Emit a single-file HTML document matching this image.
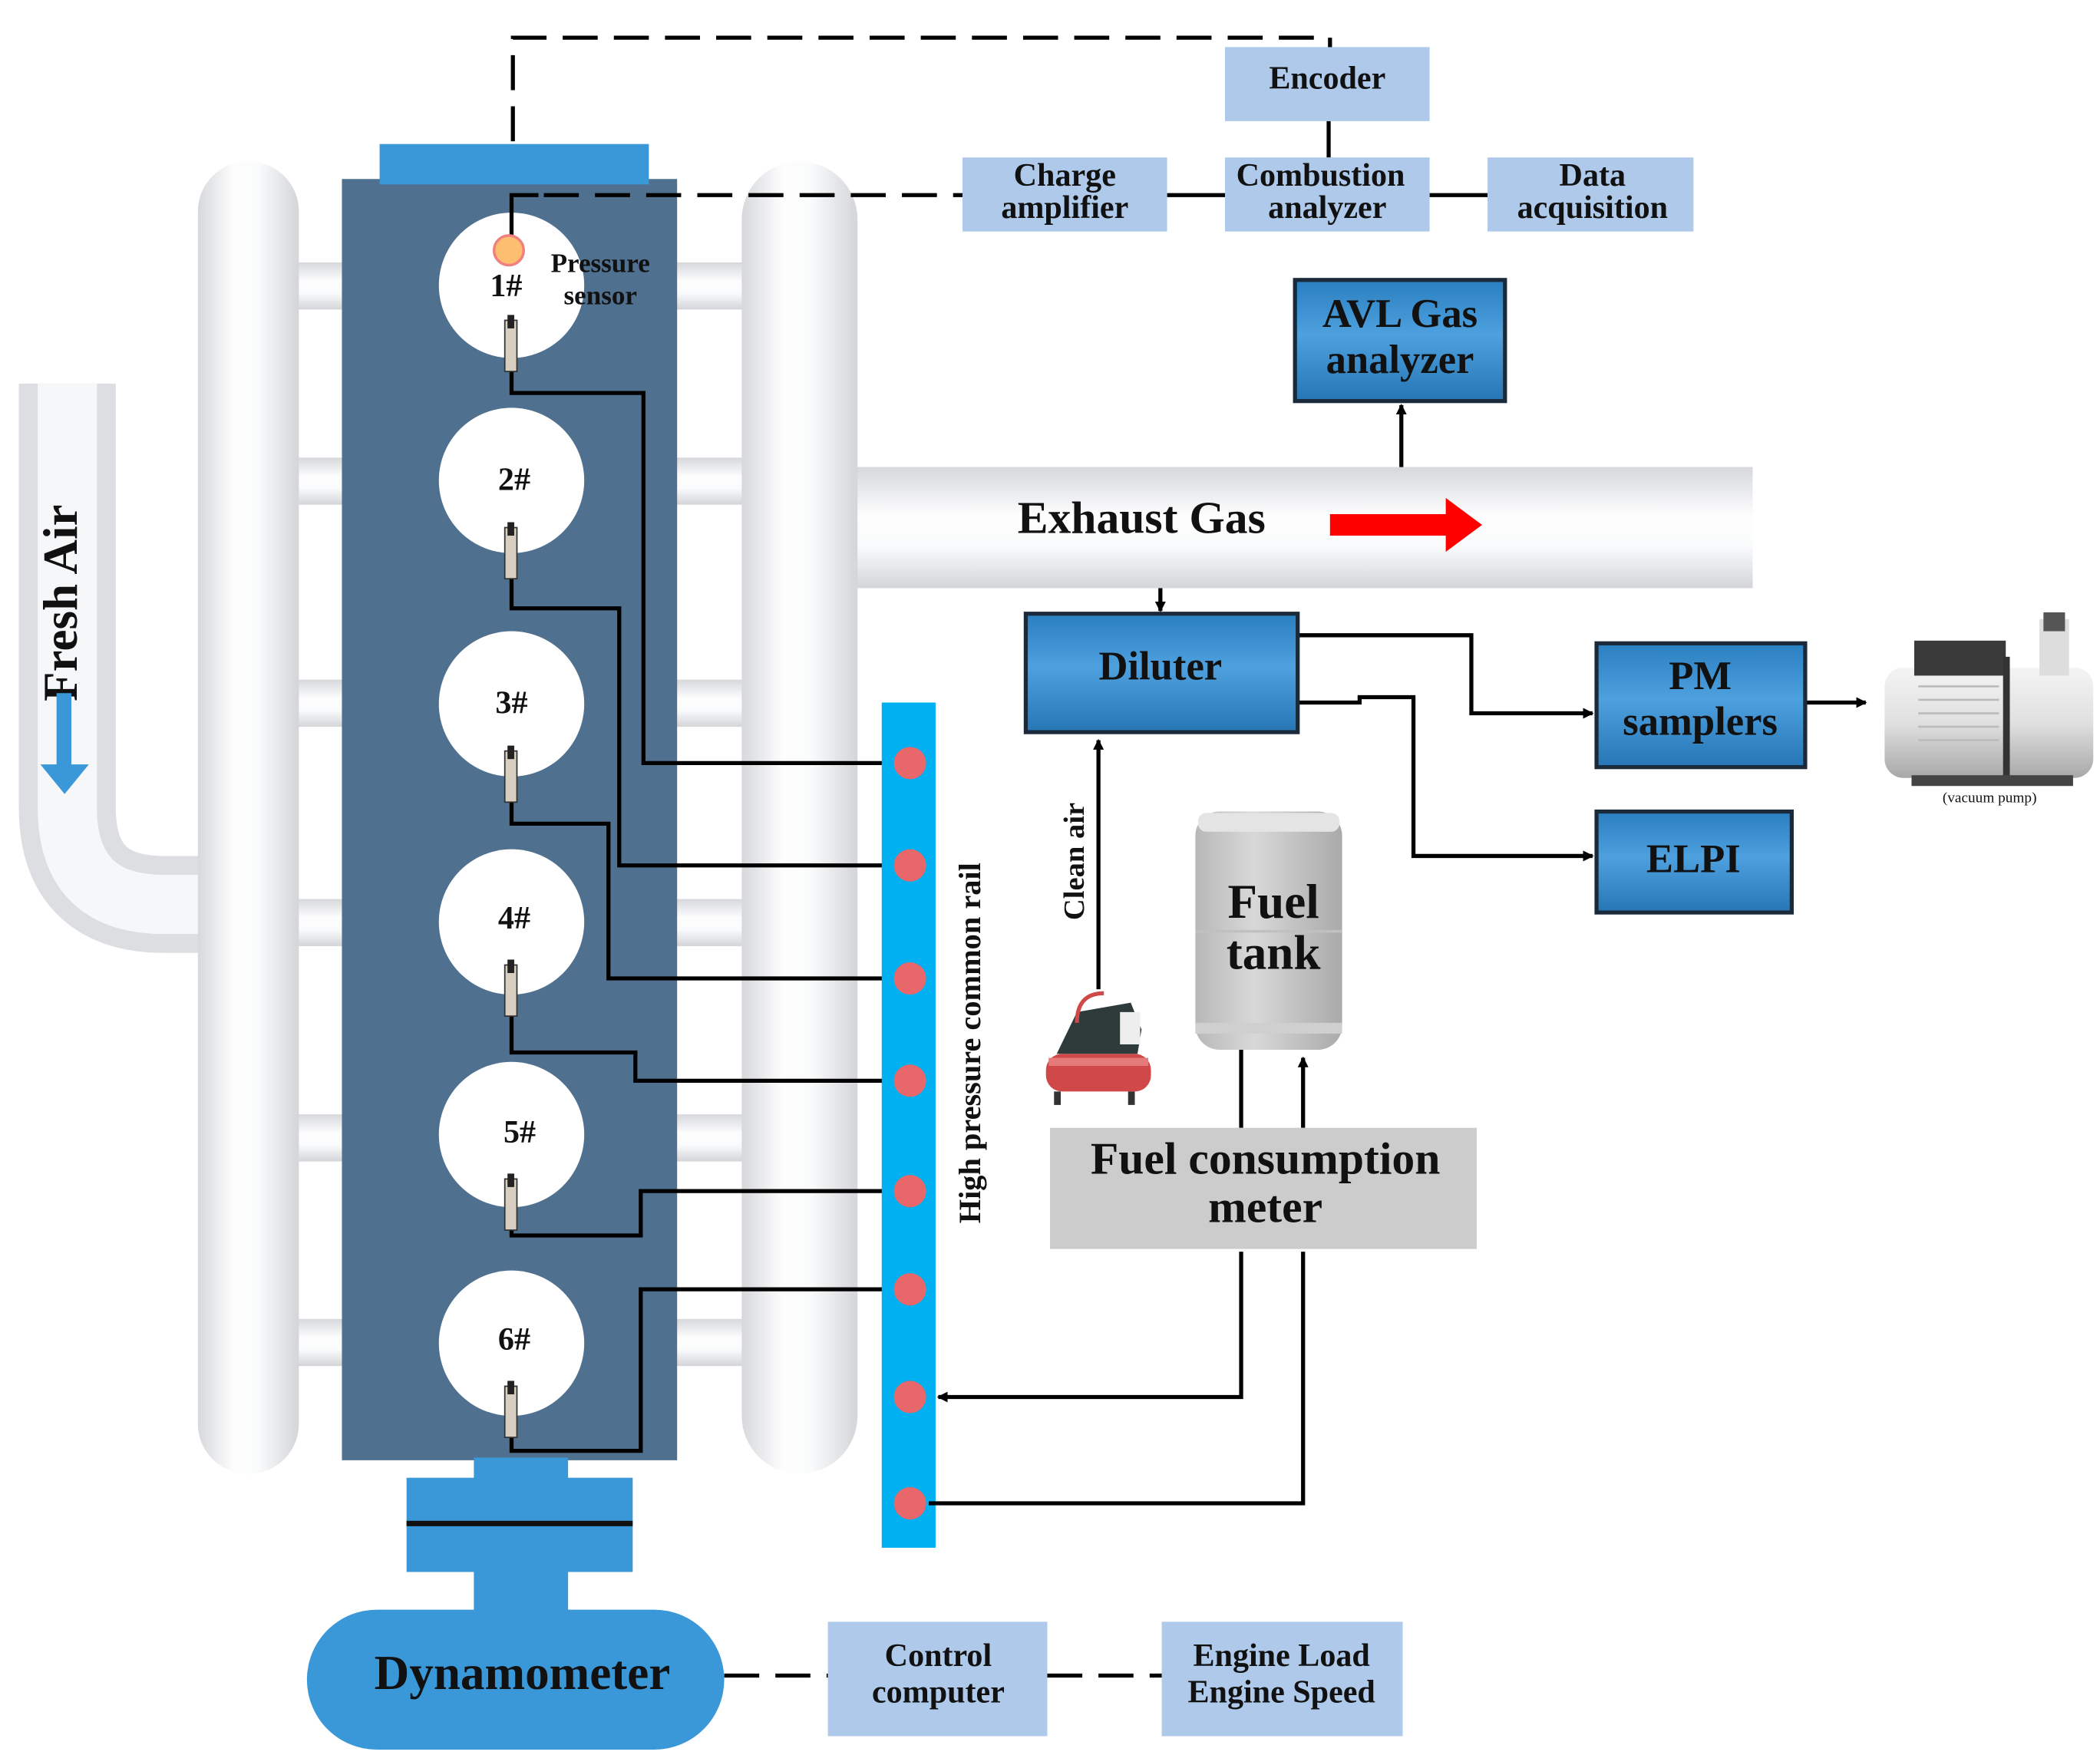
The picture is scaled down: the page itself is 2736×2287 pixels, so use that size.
<!DOCTYPE html>
<html><head><meta charset="utf-8"><style>
html,body{margin:0;padding:0;background:#fff;}
svg{display:block;}
text{font-family:"Liberation Serif",serif;fill:#111;}
</style></head><body>
<svg width="2736" height="2287" viewBox="0 0 1560 1304" preserveAspectRatio="none" xmlns="http://www.w3.org/2000/svg">
<defs>
<linearGradient id="vp" x1="0" x2="1" y1="0" y2="0">
<stop offset="0" stop-color="#d6d8db"/><stop offset="0.35" stop-color="#fdfdfe"/><stop offset="0.6" stop-color="#fafbfc"/><stop offset="1" stop-color="#d3d5d8"/></linearGradient>
<linearGradient id="hp" x1="0" x2="0" y1="0" y2="1">
<stop offset="0" stop-color="#d6d8db"/><stop offset="0.4" stop-color="#fdfdfe"/><stop offset="0.65" stop-color="#fafbfc"/><stop offset="1" stop-color="#d3d5d8"/></linearGradient>
<linearGradient id="bb" x1="0" x2="0" y1="0" y2="1">
<stop offset="0" stop-color="#2a7fc0"/><stop offset="0.45" stop-color="#4ea0de"/><stop offset="1" stop-color="#2676b5"/></linearGradient>
<linearGradient id="tank" x1="0" x2="1" y1="0" y2="0">
<stop offset="0" stop-color="#b8b8b8"/><stop offset="0.4" stop-color="#d8d8d8"/><stop offset="1" stop-color="#aaaaaa"/></linearGradient>
<linearGradient id="pump" x1="0" x2="0" y1="0" y2="1">
<stop offset="0" stop-color="#f4f4f4"/><stop offset="0.5" stop-color="#e0e0e0"/><stop offset="1" stop-color="#a8a8a8"/></linearGradient>
<marker id="ar" markerWidth="8" markerHeight="8" refX="7" refY="4" orient="auto" markerUnits="userSpaceOnUse">
<path d="M0,0 L8,4 L0,8 z" fill="#000"/></marker>
</defs>

<!-- fresh air pipe -->
<path d="M50,285 L50,600 Q50,672 122,672 L165,672" fill="none" stroke="#dcdee1" stroke-width="72"/>
<path d="M50,285 L50,600 Q50,672 122,672 L165,672" fill="none" stroke="#f6f7f8" stroke-width="44"/>
<text transform="translate(57,448) rotate(-90)" font-size="36" font-weight="bold" text-anchor="middle">Fresh Air</text>
<rect x="42" y="515" width="11" height="55" fill="#3a98d8"/>
<path d="M30,568 L66,568 L48,590 z" fill="#3a98d8"/>

<!-- manifold stubs -->
<g fill="url(#hp)">
<rect x="218" y="195" width="40" height="35"/><rect x="218" y="340" width="40" height="35"/><rect x="218" y="505" width="40" height="35"/><rect x="218" y="668" width="40" height="35"/><rect x="218" y="828" width="40" height="35"/><rect x="218" y="980" width="40" height="35"/>
<rect x="500" y="195" width="55" height="35"/><rect x="500" y="340" width="55" height="35"/><rect x="500" y="505" width="55" height="35"/><rect x="500" y="668" width="55" height="35"/><rect x="500" y="828" width="55" height="35"/><rect x="500" y="980" width="55" height="35"/>
</g>
<rect x="147" y="120" width="75" height="975" rx="37" fill="url(#vp)"/>
<rect x="630" y="347" width="672" height="90" fill="url(#hp)"/>
<rect x="551" y="120" width="86" height="975" rx="43" fill="url(#vp)"/>

<!-- engine -->
<rect x="254" y="133" width="249" height="952" fill="#50708f"/>
<rect x="282" y="107" width="200" height="30" fill="#3a98d8"/>
<g fill="#fff">
<circle cx="380" cy="212" r="54"/><circle cx="380" cy="357" r="54"/><circle cx="380" cy="523" r="54"/><circle cx="380" cy="685" r="54"/><circle cx="380" cy="843" r="54"/><circle cx="380" cy="998" r="54"/>
</g>
<g font-size="24" font-weight="bold" text-anchor="middle">
<text x="376" y="220">1#</text><text x="382" y="364">2#</text><text x="380" y="530">3#</text><text x="382" y="690">4#</text><text x="386" y="849">5#</text><text x="382" y="1003">6#</text>
</g>

<!-- wires -->
<g fill="none" stroke="#000" stroke-width="3">
<path d="M380,265 L380,292 L478,292 L478,567 L665,567"/>
<path d="M380,425 L380,452 L460,452 L460,643 L665,643"/>
<path d="M380,590 L380,612 L452,612 L452,727 L665,727"/>
<path d="M380,750 L380,782 L472,782 L472,803 L665,803"/>
<path d="M380,905 L380,918 L476,918 L476,885 L665,885"/>
<path d="M380,1060 L380,1078 L476,1078 L476,958 L665,958"/>
</g>
<!-- injectors -->
<g>
<rect x="375" y="238" width="9" height="38" fill="#d8cfc0" stroke="#333" stroke-width="1"/><rect x="377" y="234" width="5" height="10" fill="#222"/>
<rect x="375" y="392" width="9" height="38" fill="#d8cfc0" stroke="#333" stroke-width="1"/><rect x="377" y="388" width="5" height="10" fill="#222"/>
<rect x="375" y="558" width="9" height="38" fill="#d8cfc0" stroke="#333" stroke-width="1"/><rect x="377" y="554" width="5" height="10" fill="#222"/>
<rect x="375" y="717" width="9" height="38" fill="#d8cfc0" stroke="#333" stroke-width="1"/><rect x="377" y="713" width="5" height="10" fill="#222"/>
<rect x="375" y="876" width="9" height="38" fill="#d8cfc0" stroke="#333" stroke-width="1"/><rect x="377" y="872" width="5" height="10" fill="#222"/>
<rect x="375" y="1030" width="9" height="38" fill="#d8cfc0" stroke="#333" stroke-width="1"/><rect x="377" y="1026" width="5" height="10" fill="#222"/>
</g>
<!-- pressure sensor -->
<path d="M380,178 L380,145 L400,145" fill="none" stroke="#000" stroke-width="3"/>
<circle cx="378" cy="186" r="11" fill="#fdbf6f" stroke="#f08080" stroke-width="2"/>
<text x="446" y="202" font-size="20" font-weight="bold" text-anchor="middle">Pressure</text>
<text x="446" y="226" font-size="20" font-weight="bold" text-anchor="middle">sensor</text>

<!-- dashed signal lines -->
<g fill="none" stroke="#000" stroke-width="3" stroke-dasharray="26,12">
<path d="M381,105 L381,28 L988,28 L988,37"/>
<path d="M404,145 L715,145"/>
<path d="M538,1245 L615,1245"/>
<path d="M778,1245 L863,1245"/>
</g>
<g stroke="#000" stroke-width="3">
<line x1="867" y1="145" x2="910" y2="145"/><line x1="1062" y1="145" x2="1105" y2="145"/><line x1="987" y1="90" x2="987" y2="117"/>
</g>
<!-- light blue boxes -->
<g fill="#aec9ea">
<rect x="910" y="35" width="152" height="55"/><rect x="715" y="117" width="152" height="55"/><rect x="910" y="117" width="152" height="55"/><rect x="1105" y="117" width="153" height="55"/>
<rect x="615" y="1205" width="163" height="85"/><rect x="863" y="1205" width="179" height="85"/>
</g>
<g font-size="24" font-weight="bold" text-anchor="middle">
<text x="986" y="66">Encoder</text>
<text x="791" y="138">Charge</text><text x="791" y="162">amplifier</text>
<text x="981" y="138">Combustion</text><text x="986" y="162">analyzer</text>
<text x="1183" y="138">Data</text><text x="1183" y="162">acquisition</text>
<text x="697" y="1238">Control</text><text x="697" y="1265">computer</text>
<text x="952" y="1238">Engine Load</text><text x="952" y="1265">Engine Speed</text>
</g>

<!-- common rail -->
<rect x="655" y="522" width="40" height="628" fill="#00b0f0"/>
<g fill="#e8676b">
<circle cx="676" cy="567" r="12"/><circle cx="676" cy="643" r="12"/><circle cx="676" cy="727" r="12"/><circle cx="676" cy="803" r="12"/><circle cx="676" cy="885" r="12"/><circle cx="676" cy="958" r="12"/><circle cx="676" cy="1038" r="12"/><circle cx="676" cy="1117" r="12"/>
</g>
<text transform="translate(728,775) rotate(-90)" font-size="23" font-weight="bold" text-anchor="middle">High pressure common rail</text>

<!-- exhaust -->
<text x="848" y="396" font-size="34" font-weight="bold" text-anchor="middle">Exhaust Gas</text>
<rect x="988" y="382" width="88" height="16" fill="#ff0000"/>
<path d="M1074,370 L1101,390 L1074,410 z" fill="#ff0000"/>
<g fill="none" stroke="#000" stroke-width="3" marker-end="url(#ar)">
<line x1="1041" y1="347" x2="1041" y2="301"/>
<line x1="862" y1="437" x2="862" y2="454"/>
<path d="M964,472 L1093,472 L1093,530 L1183,530"/>
<path d="M964,522 L1010,522 L1010,518 L1050,518 L1050,636 L1183,636"/>
<line x1="1341" y1="522" x2="1386" y2="522"/>
<line x1="816" y1="735" x2="816" y2="550"/>
<path d="M922,930 L922,1038 L697,1038"/>
<line x1="968" y1="838" x2="968" y2="786"/>
</g>
<g fill="none" stroke="#000" stroke-width="3">
<path d="M968,930 L968,1117 L690,1117"/>
<line x1="922" y1="780" x2="922" y2="838"/>
</g>

<!-- blue boxes -->
<g fill="url(#bb)" stroke="#1a2a3a" stroke-width="3">
<rect x="962" y="208" width="156" height="90"/>
<rect x="762" y="456" width="202" height="88"/>
<rect x="1186" y="478" width="155" height="92"/>
<rect x="1186" y="603" width="145" height="75"/>
</g>
<g font-size="30" font-weight="bold" text-anchor="middle">
<text x="1040" y="243">AVL Gas</text><text x="1040" y="277">analyzer</text>
<text x="862" y="505">Diluter</text>
<text x="1263" y="512">PM</text><text x="1263" y="546">samplers</text>
<text x="1258" y="648">ELPI</text>
</g>

<!-- fuel tank -->
<rect x="888" y="603" width="109" height="177" rx="18" fill="url(#tank)"/>
<rect x="890" y="604" width="105" height="14" rx="6" fill="#e4e4e4"/>
<line x1="888" y1="692" x2="997" y2="692" stroke="#c0c0c0" stroke-width="2"/>
<rect x="888" y="760" width="109" height="8" fill="#cfcfcf"/>
<text x="946" y="682" font-size="36" font-weight="bold" text-anchor="middle">Fuel</text>
<text x="946" y="720" font-size="36" font-weight="bold" text-anchor="middle">tank</text>
<rect x="780" y="838" width="317" height="90" fill="#cccccc"/>
<text x="940" y="872" font-size="34" font-weight="bold" text-anchor="middle">Fuel consumption</text>
<text x="940" y="908" font-size="34" font-weight="bold" text-anchor="middle">meter</text>
<text transform="translate(805,640) rotate(-90)" font-size="22" font-weight="bold" text-anchor="middle">Clean air</text>

<!-- compressor -->
<rect x="777" y="783" width="78" height="28" rx="12" fill="#d04848"/>
<rect x="779" y="786" width="74" height="6" fill="#e57a7a"/>
<path d="M785,783 L800,752 L840,745 L848,765 L845,783 z" fill="#2f3a3a"/>
<rect x="832" y="752" width="15" height="24" fill="#eee"/>
<path d="M800,760 Q800,738 820,738" fill="none" stroke="#d04848" stroke-width="3"/>
<rect x="783" y="811" width="5" height="10" fill="#333"/><rect x="838" y="811" width="5" height="10" fill="#333"/>

<!-- vacuum pump -->
<rect x="1400" y="496" width="155" height="82" rx="14" fill="url(#pump)"/>
<rect x="1422" y="476" width="68" height="26" fill="#3a3a3a"/>
<rect x="1515" y="460" width="22" height="42" fill="#ddd"/><rect x="1518" y="455" width="16" height="14" fill="#555"/>
<rect x="1488" y="488" width="5" height="90" fill="#333"/>
<g stroke="#bbb" stroke-width="1.5"><line x1="1425" y1="510" x2="1485" y2="510"/><line x1="1425" y1="520" x2="1485" y2="520"/><line x1="1425" y1="530" x2="1485" y2="530"/><line x1="1425" y1="540" x2="1485" y2="540"/><line x1="1425" y1="550" x2="1485" y2="550"/></g>
<rect x="1420" y="576" width="120" height="8" fill="#444"/>
<text x="1478" y="596" font-size="11" text-anchor="middle">(vacuum pump)</text>

<!-- dynamometer -->
<rect x="352" y="1083" width="70" height="20" fill="#3a98d8"/>
<rect x="302" y="1098" width="168" height="70" fill="#3a98d8"/>
<rect x="302" y="1130" width="168" height="4" fill="#111"/>
<rect x="352" y="1166" width="70" height="34" fill="#3a98d8"/>
<rect x="228" y="1196" width="310" height="104" rx="52" fill="#3a98d8"/>
<text x="388" y="1255" font-size="36" font-weight="bold" text-anchor="middle">Dynamometer</text>
</svg>
</body></html>
